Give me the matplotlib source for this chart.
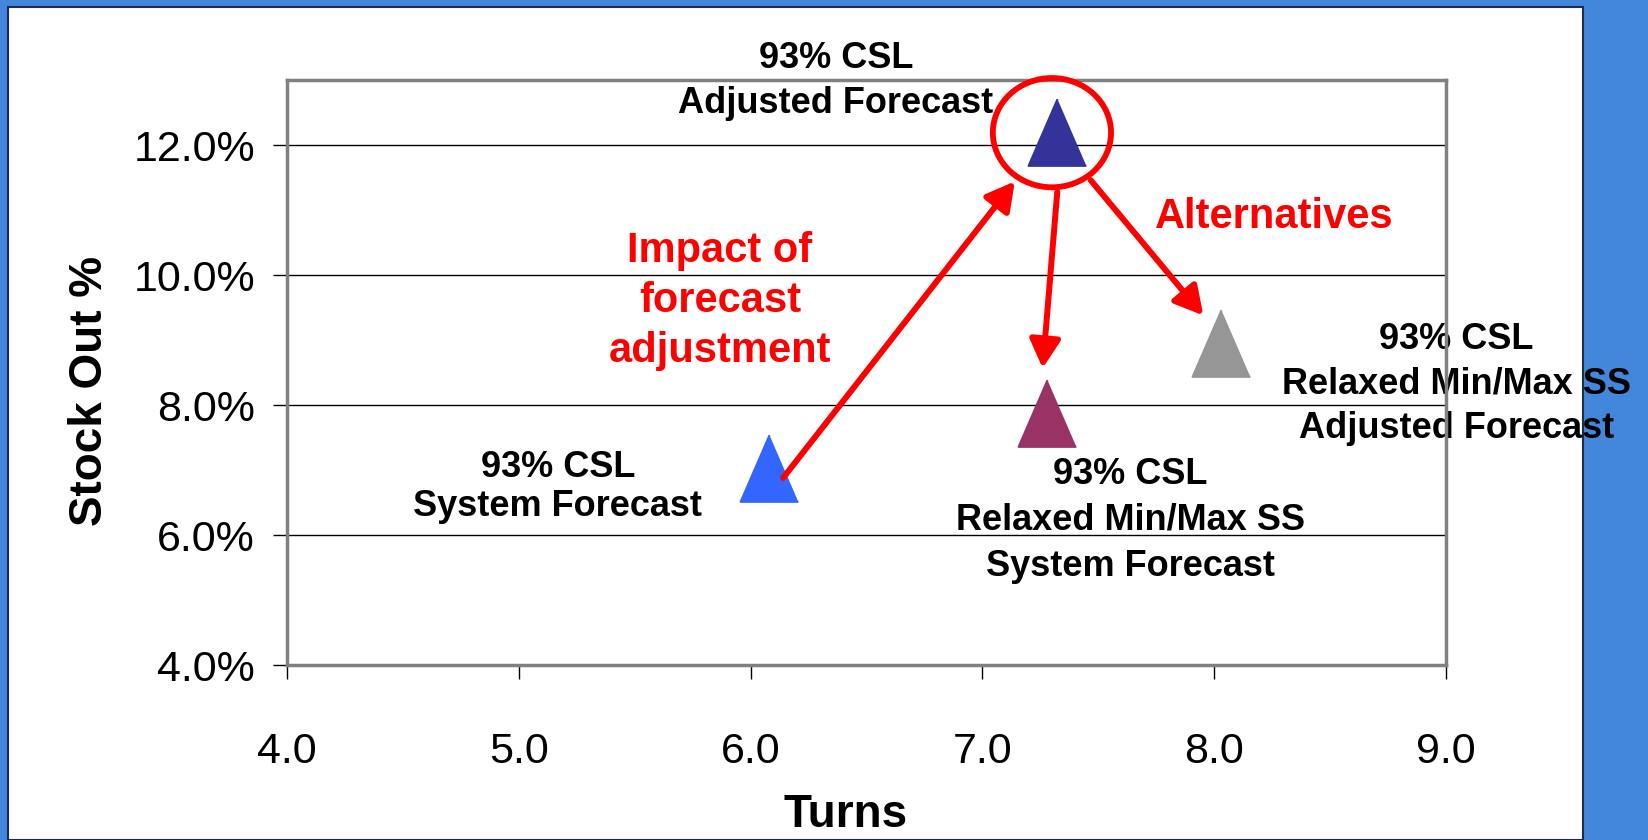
import matplotlib
matplotlib.use("Agg")
import matplotlib.pyplot as plt
from matplotlib.patches import Ellipse, Rectangle
from matplotlib.ticker import PercentFormatter, FormatStrFormatter, FixedLocator

# ---------------- data ----------------
point_labels = [
    ["93% CSL", "System Forecast"],
    ["93% CSL", "Adjusted Forecast"],
    ["93% CSL", "Relaxed Min/Max SS", "System Forecast"],
    ["93% CSL", "Relaxed Min/Max SS", "Adjusted Forecast"],
]
turns = [6.08, 7.32, 7.28, 8.03]
stock_out = [0.0704, 0.1220, 0.0788, 0.0896]
point_colors = ["#3366FF", "#333399", "#993366", "#969696"]

x_ticks = [4.0, 5.0, 6.0, 7.0, 8.0, 9.0]
y_ticks = [0.04, 0.06, 0.08, 0.10, 0.12]

impact_text = ["Impact of", "forecast", "adjustment"]
alt_text = ["Alternatives"]

# ---------------- layout (annotation positions, data coords) ----------------
label_anchor = [(5.169, 0.06895, 39), (6.368, 0.13184, 45),
                (7.637, 0.06788, 46), (9.046, 0.08863, 44.5)]
impact_anchor = (5.868, 0.1020, 50)
alt_anchor = (8.258, 0.1072, 50)
arrows = [((6.14, 0.0688), (7.14, 0.1144)),
          ((7.323, 0.1128), (7.26, 0.0857)),
          ((7.467, 0.1146), (7.953, 0.0938))]

W, H = 1648, 840
fig = plt.figure(figsize=(W / 100, H / 100), dpi=100)
fig.patch.set_facecolor("#4287DC")
fig.patches.append(Rectangle((8 / W, 0), (1583 - 8) / W, (H - 7) / H,
                             transform=fig.transFigure, facecolor="white",
                             edgecolor="#1c2b55", lw=1.5, zorder=-5))

ax = fig.add_axes([287 / W, 1 - 665.3 / H, (1446 - 287) / W, (665.3 - 80) / H])
ax.set_zorder(1)
ax.set_facecolor("none")
ax.set_xlim(4.0, 9.0)
ax.set_ylim(0.04, 0.13)

ax.xaxis.set_major_locator(FixedLocator(x_ticks))
ax.yaxis.set_major_locator(FixedLocator(y_ticks))
ax.xaxis.set_major_formatter(FormatStrFormatter("%.1f"))
ax.yaxis.set_major_formatter(PercentFormatter(xmax=1, decimals=1))

reg = ["Liberation Sans", "DejaVu Sans"]
ax.tick_params(axis="both", direction="out", length=10, width=1, color="black",
               labelsize=31)
ax.tick_params(axis="y", pad=13)
ax.tick_params(axis="x", pad=38)
for lab in ax.get_xticklabels() + ax.get_yticklabels():
    lab.set_family(reg)

ax.yaxis.grid(True, color="black", lw=1)
ax.set_axisbelow(True)
for s in ax.spines.values():
    s.set_color("#808080")
    s.set_linewidth(2.5)
    s.set_zorder(2.5)

# triangles
tri = [(0, 1), (-0.866, -1), (0.866, -1)]
for x, y, c in zip(turns, stock_out, point_colors):
    ax.plot([x], [y], linestyle="none", marker=tri, markersize=48,
            markerfacecolor=c, markeredgecolor=c, markeredgewidth=1.5,
            zorder=4, clip_on=False)

# labels of points
bold = ["Liberation Sans", "DejaVu Sans"]
for lines, (lx, ly, sp) in zip(point_labels, label_anchor):
    for i, t in enumerate(lines):
        ax.annotate(t, xy=(lx, ly), xytext=(0, -i * sp), textcoords="offset pixels",
                    ha="center", va="baseline", fontsize=26, fontweight="bold",
                    family=bold, color="black", zorder=2, annotation_clip=False)

for lines, (lx, ly, sp) in [(impact_text, impact_anchor), (alt_text, alt_anchor)]:
    for i, t in enumerate(lines):
        ax.annotate(t, xy=(lx, ly), xytext=(0, -i * sp), textcoords="offset pixels",
                    ha="center", va="baseline", fontsize=30, fontweight="bold",
                    family=bold, color="#FF0000", zorder=5, annotation_clip=False)

# red circle around adjusted forecast point
ax.add_patch(Ellipse((turns[1] - 0.02, stock_out[1] - 0.0001), width=0.51, height=0.0168,
                     fill=False, edgecolor="#FF0000", lw=4.2, zorder=6, clip_on=False))

for (x0, y0), (x1, y1) in arrows:
    ax.annotate("", xy=(x1, y1), xytext=(x0, y0),
                arrowprops=dict(arrowstyle="-|>,head_length=1.0,head_width=0.55",
                                mutation_scale=17, color="#FF0000", lw=4.3,
                                shrinkA=0, shrinkB=0),
                zorder=6, annotation_clip=False)

axis_font = dict(family=bold, fontweight="bold", fontsize=33, color="black")
fig.text(846 / W, 1 - 827 / H, "Turns", ha="center", va="baseline", **axis_font)
fig.text(90 / W, 1 - 391 / H, "Stock Out %", ha="center", va="center",
         rotation=90, **axis_font)

fig.savefig("out.png", dpi=100, facecolor=fig.get_facecolor())
